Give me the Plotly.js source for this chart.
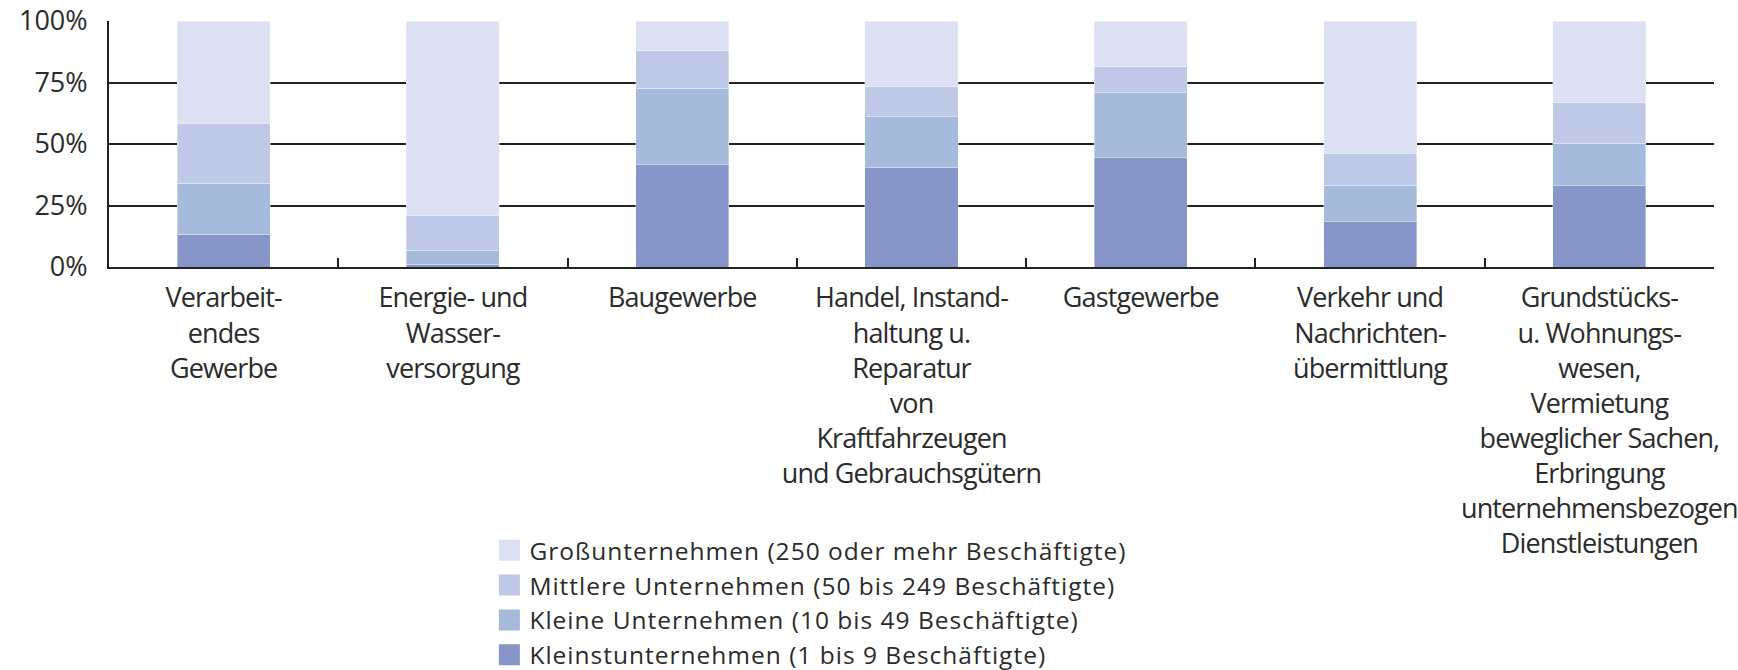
<!DOCTYPE html>
<html>
<head>
<meta charset="utf-8">
<script src="https://cdn.plot.ly/plotly-3.0.1.min.js"></script>
<style>
  html, body { margin: 0; padding: 0; background: #ffffff; }
  #chart { width: 1738px; height: 670px; }
  .xtick text { letter-spacing: -0.9px; }
  .legendtext { letter-spacing: 1px; }
  #chart .legend .legendpoints path { stroke-width: 9px !important; stroke-opacity: 1 !important; }
  #chart .legend .traces:nth-child(1) .legendpoints path { stroke: #dbe0f2 !important; }
  #chart .legend .traces:nth-child(2) .legendpoints path { stroke: #bfc8e6 !important; }
  #chart .legend .traces:nth-child(3) .legendpoints path { stroke: #a6bbdb !important; }
  #chart .legend .traces:nth-child(4) .legendpoints path { stroke: #8895c9 !important; }
</style>
</head>
<body>
<div id="chart"></div>
<script>
// Categories (x-axis tick labels)
const categories = [
  "Verarbeit-<br>endes<br>Gewerbe",
  "Energie- und<br>Wasser-<br>versorgung",
  "Baugewerbe",
  "Handel, Instand-<br>haltung u.<br>Reparatur<br>von<br>Kraftfahrzeugen<br>und Gebrauchsgütern",
  "Gastgewerbe",
  "Verkehr und<br>Nachrichten-<br>übermittlung",
  "Grundstücks-<br>u. Wohnungs-<br>wesen,<br>Vermietung<br>beweglicher Sachen,<br>Erbringung<br>unternehmensbezogen<br>Dienstleistungen"
];

// Series names
const seriesNames = [
  "Kleinstunternehmen (1 bis 9 Beschäftigte)",
  "Kleine Unternehmen (10 bis 49 Beschäftigte)",
  "Mittlere Unternehmen (50 bis 249 Beschäftigte)",
  "Großunternehmen (250 oder mehr Beschäftigte)"
];

// Shares in percent
const kleinst  = [13.4, 1.1, 41.5, 40.6, 44.6, 18.4, 33.1];
const kleine   = [20.7, 5.8, 31.2, 20.4, 26.3, 14.8, 17.2];
const mittlere = [24.4, 13.9, 15.5, 12.3, 10.8, 13.1, 16.4];
const gross    = [41.5, 79.2, 11.8, 26.7, 18.3, 53.7, 33.3];

// Y-axis ticks
const yTickVals = [0, 25, 50, 75, 100];
const yTickText = ["0%", "25%", "50%", "75%", "100%"];

const seriesValues = [kleinst, kleine, mittlere, gross];
const seriesColors = ["#8895c9", "#a6bbdb", "#bfc8e6", "#dbe0f2"];

const FONT = '"Open Sans", "Noto Sans", sans-serif';
const TXT = "#2b2b2b";

const traces = seriesValues.map((vals, i) => ({
  type: "bar",
  name: seriesNames[i],
  x: categories,
  y: vals,
  marker: { color: seriesColors[i], line: { color: "rgba(255,255,255,0.45)", width: 0.8 } },
  hoverinfo: "name+y"
}));

const layout = {
  width: 1738,
  height: 670,
  barmode: "stack",
  bargap: 0.594,
  paper_bgcolor: "#ffffff",
  plot_bgcolor: "#ffffff",
  margin: { l: 109, r: 24, t: 21, b: 403, autoexpand: false },
  font: { family: FONT, color: TXT, size: 27 },
  showlegend: true,
  legend: {
    x: 0.237, xanchor: "left",
    y: -1.06, yanchor: "top",
    traceorder: "reversed",
    bgcolor: "rgba(0,0,0,0)",
    font: { family: FONT, size: 24.5, color: TXT },
    itemwidth: 30
  },
  xaxis: {
    type: "category",
    automargin: false,
    showline: true,
    linecolor: "#222222",
    linewidth: 2,
    ticks: "inside",
    tickson: "boundaries",
    ticklen: 9,
    tickwidth: 2,
    tickcolor: "#222222",
    showgrid: false,
    tickangle: 0,
    ticklabelstandoff: 6,
    tickfont: { family: FONT, size: 27, color: TXT }
  },
  yaxis: {
    range: [0, 100],
    automargin: false,
    tickmode: "array",
    tickvals: yTickVals,
    ticktext: yTickText,
    showline: true,
    linecolor: "#222222",
    linewidth: 2,
    ticks: "",
    showgrid: true,
    gridcolor: "#222222",
    gridwidth: 2,
    zeroline: false,
    ticklabelstandoff: 14,
    tickfont: { family: FONT, size: 27, color: TXT }
  }
};

Plotly.newPlot("chart", traces, layout, { displayModeBar: false, staticPlot: true });
</script>
</body>
</html>
